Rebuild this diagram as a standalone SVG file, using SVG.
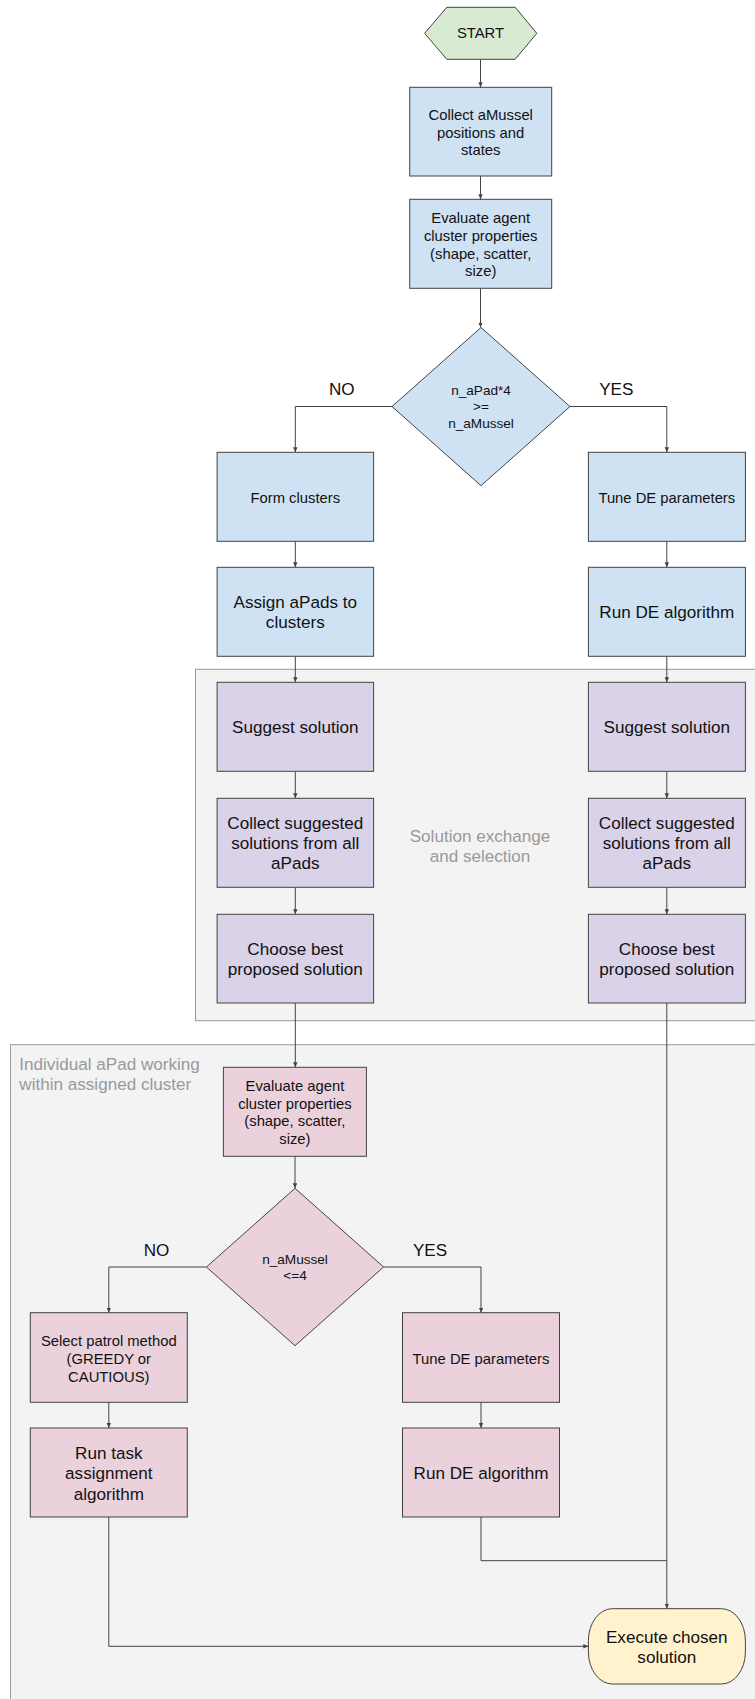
<svg xmlns="http://www.w3.org/2000/svg" width="755" height="1699" viewBox="0 0 755 1699">
<style>
  .box { stroke: #434343; stroke-width: 1; }
  .blue { fill: #cfe2f3; }
  .green { fill: #d9ead3; }
  .purple { fill: #d9d2e9; }
  .pink { fill: #ead1dc; }
  .yellow { fill: #fff2cc; }
  .grp { fill: #f3f3f3; stroke: #999999; stroke-width: 1; }
  text { font-family: "Liberation Sans", Arial, sans-serif; fill: #111111; text-anchor: middle; dominant-baseline: central; }
  .s { font-size: 14.8px; }
  .l { font-size: 17.1px; }
  .d { font-size: 13.6px; }
  .g { fill: #999999; font-size: 17.1px; }
  .conn { fill: none; stroke: #434343; stroke-width: 1; }
</style>
<defs>
  <marker id="arr" markerUnits="userSpaceOnUse" markerWidth="6" markerHeight="6" refX="5" refY="2.2" orient="auto">
    <path d="M0,0 L5,2.2 L0,4.4 z" fill="#434343"/>
  </marker>
</defs>

<g id="group-exchange">
  <rect class="grp" x="195.5" y="669.3" width="570" height="351.4"/>
  <text class="g" x="480" y="836">Solution exchange</text>
  <text class="g" x="480" y="856">and selection</text>
</g>
<g id="group-individual">
  <rect class="grp" x="10.5" y="1044.7" width="760" height="670"/>
  <text class="g" x="19.3" y="1064.3" style="text-anchor:start">Individual aPad working</text>
  <text class="g" x="19.3" y="1084.3" style="text-anchor:start">within assigned cluster</text>
</g>

<g id="connectors">
  <path class="conn" d="M480.5 59.3 V87.3" marker-end="url(#arr)"/>
  <path class="conn" d="M480.5 176 V199.3" marker-end="url(#arr)"/>
  <path class="conn" d="M480.5 288.3 V327.5" marker-end="url(#arr)"/>
  <path class="conn" d="M392 406.5 H295.3 V452.3" marker-end="url(#arr)"/>
  <path class="conn" d="M570 406.5 H666.8 V452.3" marker-end="url(#arr)"/>
  <path class="conn" d="M295.3 541.3 V567.3" marker-end="url(#arr)"/>
  <path class="conn" d="M666.8 541.3 V567.3" marker-end="url(#arr)"/>
  <path class="conn" d="M295.3 656.3 V682.3" marker-end="url(#arr)"/>
  <path class="conn" d="M666.8 656.3 V682.3" marker-end="url(#arr)"/>
  <path class="conn" d="M295.3 771.3 V798.3" marker-end="url(#arr)"/>
  <path class="conn" d="M666.8 771.3 V798.3" marker-end="url(#arr)"/>
  <path class="conn" d="M295.3 887.3 V914.3" marker-end="url(#arr)"/>
  <path class="conn" d="M666.8 887.3 V914.3" marker-end="url(#arr)"/>
  <path class="conn" d="M295.3 1003 V1067.3" marker-end="url(#arr)"/>
  <path class="conn" d="M666.8 1003 V1608.7" marker-end="url(#arr)"/>
  <path class="conn" d="M295 1156.3 V1188.3" marker-end="url(#arr)"/>
  <path class="conn" d="M206.4 1267 H108.8 V1312.7" marker-end="url(#arr)"/>
  <path class="conn" d="M383.6 1267 H481 V1312.7" marker-end="url(#arr)"/>
  <path class="conn" d="M108.8 1402.3 V1428" marker-end="url(#arr)"/>
  <path class="conn" d="M481 1402.3 V1428" marker-end="url(#arr)"/>
  <path class="conn" d="M481 1517 V1560.7 H666.8"/>
  <path class="conn" d="M108.8 1517 V1646.3 H588.4" marker-end="url(#arr)"/>
</g>

<g id="start">
  <polygon class="box green" points="446.8,7.3 515.2,7.3 536.8,33.3 515.2,59.3 446.8,59.3 424.6,33.3"/>
  <text class="s" x="480.5" y="33.3">START</text>
</g>
<g id="collect-positions">
  <rect class="box blue" x="409.7" y="87.3" width="142" height="88.7"/>
  <text class="s" x="480.7" y="115">Collect aMussel</text>
  <text class="s" x="480.7" y="132.7">positions and</text>
  <text class="s" x="480.7" y="150.3">states</text>
</g>
<g id="evaluate-1">
  <rect class="box blue" x="409.7" y="199.3" width="142" height="89"/>
  <text class="s" x="480.7" y="218.3">Evaluate agent</text>
  <text class="s" x="480.7" y="235.9">cluster properties</text>
  <text class="s" x="480.7" y="253.5">(shape, scatter,</text>
  <text class="s" x="480.7" y="271.1">size)</text>
</g>
<g id="decision-1">
  <polygon class="box blue" points="481,327.5 570,406.5 481,485.7 392,406.5"/>
  <text class="d" x="481" y="390.7">n_aPad*4</text>
  <text class="d" x="481" y="406.5">&gt;=</text>
  <text class="d" x="481" y="423.3">n_aMussel</text>
</g>
<g id="label-no-1"><text class="l" x="341.8" y="389.3">NO</text></g>
<g id="label-yes-1"><text class="l" x="616.3" y="389.3">YES</text></g>
<g id="form-clusters">
  <rect class="box blue" x="217.1" y="452.3" width="156.5" height="89"/>
  <text class="s" x="295.3" y="497.7">Form clusters</text>
</g>
<g id="tune-de-1">
  <rect class="box blue" x="588.4" y="452.3" width="157" height="89"/>
  <text class="s" x="666.8" y="497.7">Tune DE parameters</text>
</g>
<g id="assign-apads">
  <rect class="box blue" x="217.1" y="567.3" width="156.5" height="89"/>
  <text class="l" x="295.3" y="602.7">Assign aPads to</text>
  <text class="l" x="295.3" y="622.7">clusters</text>
</g>
<g id="run-de-1">
  <rect class="box blue" x="588.4" y="567.3" width="157" height="89"/>
  <text class="l" x="666.8" y="612.7">Run DE algorithm</text>
</g>
<g id="suggest-left">
  <rect class="box purple" x="217.1" y="682.3" width="156.5" height="89"/>
  <text class="l" x="295.3" y="727.7">Suggest solution</text>
</g>
<g id="suggest-right">
  <rect class="box purple" x="588.4" y="682.3" width="157" height="89"/>
  <text class="l" x="666.8" y="727.7">Suggest solution</text>
</g>
<g id="collect-left">
  <rect class="box purple" x="217.1" y="798.3" width="156.5" height="89"/>
  <text class="l" x="295.3" y="823.3">Collect suggested</text>
  <text class="l" x="295.3" y="843.5">solutions from all</text>
  <text class="l" x="295.3" y="863.7">aPads</text>
</g>
<g id="collect-right">
  <rect class="box purple" x="588.4" y="798.3" width="157" height="89"/>
  <text class="l" x="666.8" y="823.3">Collect suggested</text>
  <text class="l" x="666.8" y="843.5">solutions from all</text>
  <text class="l" x="666.8" y="863.7">aPads</text>
</g>
<g id="choose-left">
  <rect class="box purple" x="217.1" y="914.3" width="156.5" height="88.7"/>
  <text class="l" x="295.3" y="949">Choose best</text>
  <text class="l" x="295.3" y="969.3">proposed solution</text>
</g>
<g id="choose-right">
  <rect class="box purple" x="588.4" y="914.3" width="157" height="88.7"/>
  <text class="l" x="666.8" y="949">Choose best</text>
  <text class="l" x="666.8" y="969.3">proposed solution</text>
</g>
<g id="evaluate-2">
  <rect class="box pink" x="223.4" y="1067.3" width="143" height="89"/>
  <text class="s" x="294.9" y="1086">Evaluate agent</text>
  <text class="s" x="294.9" y="1103.7">cluster properties</text>
  <text class="s" x="294.9" y="1121.4">(shape, scatter,</text>
  <text class="s" x="294.9" y="1139.1">size)</text>
</g>
<g id="decision-2">
  <polygon class="box pink" points="295,1188.3 383.6,1267 295,1345.7 206.4,1267"/>
  <text class="d" x="295" y="1259.3">n_aMussel</text>
  <text class="d" x="295" y="1275.3">&lt;=4</text>
</g>
<g id="label-no-2"><text class="l" x="156.5" y="1250">NO</text></g>
<g id="label-yes-2"><text class="l" x="430" y="1250">YES</text></g>
<g id="select-patrol">
  <rect class="box pink" x="30.3" y="1312.7" width="157" height="89.6"/>
  <text class="s" x="108.8" y="1341">Select patrol method</text>
  <text class="s" x="108.8" y="1359">(GREEDY or</text>
  <text class="s" x="108.8" y="1377">CAUTIOUS)</text>
</g>
<g id="tune-de-2">
  <rect class="box pink" x="402.5" y="1312.7" width="157" height="89.6"/>
  <text class="s" x="481" y="1359">Tune DE parameters</text>
</g>
<g id="run-task">
  <rect class="box pink" x="30.3" y="1428" width="157" height="89"/>
  <text class="l" x="108.8" y="1453.3">Run task</text>
  <text class="l" x="108.8" y="1473.7">assignment</text>
  <text class="l" x="108.8" y="1494">algorithm</text>
</g>
<g id="run-de-2">
  <rect class="box pink" x="402.5" y="1428" width="157" height="89"/>
  <text class="l" x="481" y="1473.7">Run DE algorithm</text>
</g>
<g id="execute">
  <rect class="box yellow" x="588.4" y="1608.7" width="157" height="75.3" rx="24" ry="32"/>
  <text class="l" x="666.8" y="1637.7">Execute chosen</text>
  <text class="l" x="666.8" y="1657.3">solution</text>
</g>
</svg>
